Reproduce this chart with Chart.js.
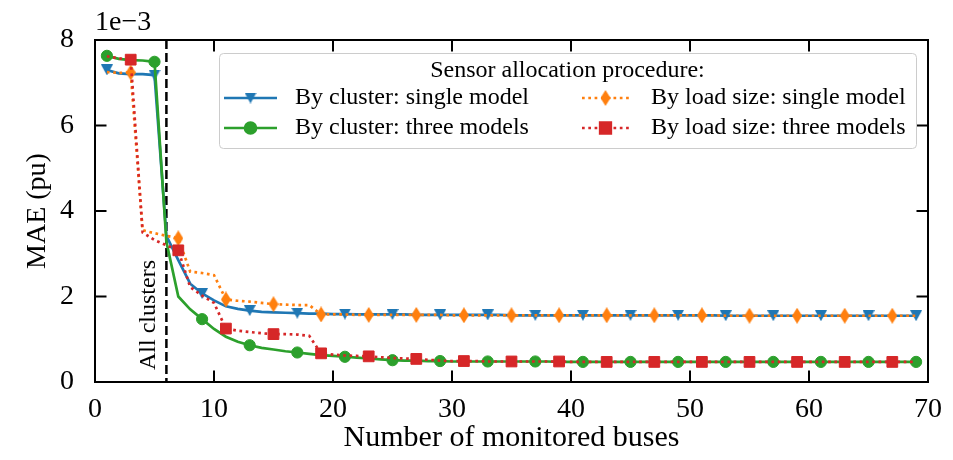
<!DOCTYPE html>
<html>
<head>
<meta charset="utf-8">
<title>MAE vs number of monitored buses</title>
<script src="https://cdn.jsdelivr.net/npm/chart.js@4.4.1/dist/chart.umd.min.js"></script>
<style>
  html, body { margin: 0; padding: 0; background: #ffffff; }
  canvas { display: block; }
</style>
</head>
<body>
<canvas id="maeChart" width="953" height="460"></canvas>
<script>
// number of monitored buses (x)
var buses = [
  1, 2, 3, 4, 5, 6, 7, 8, 9, 10,
  11, 12, 13, 14, 15, 16, 17, 18, 19, 20,
  21, 22, 23, 24, 25, 26, 27, 28, 29, 30,
  31, 32, 33, 34, 35, 36, 37, 38, 39, 40,
  41, 42, 43, 44, 45, 46, 47, 48, 49, 50,
  51, 52, 53, 54, 55, 56, 57, 58, 59, 60,
  61, 62, 63, 64, 65, 66, 67, 68, 69
];

// MAE in units of 1e-3 pu
var clusterSingle = [
  7.30, 7.22, 7.20, 7.20, 7.18, 3.42, 2.85, 2.30, 2.07, 1.91,
  1.77, 1.71, 1.67, 1.64, 1.63, 1.62, 1.61, 1.60, 1.60, 1.59,
  1.59, 1.58, 1.58, 1.58, 1.58, 1.58, 1.57, 1.57, 1.57, 1.57,
  1.57, 1.57, 1.57, 1.57, 1.56, 1.56, 1.56, 1.56, 1.56, 1.56,
  1.56, 1.56, 1.56, 1.56, 1.56, 1.56, 1.56, 1.56, 1.56, 1.56,
  1.56, 1.56, 1.55, 1.55, 1.55, 1.55, 1.55, 1.55, 1.55, 1.55,
  1.55, 1.55, 1.55, 1.55, 1.55, 1.55, 1.55, 1.55, 1.55
];
var clusterThree = [
  7.63, 7.56, 7.53, 7.52, 7.49, 3.28, 2.00, 1.70, 1.47, 1.24,
  1.06, 0.94, 0.86, 0.80, 0.76, 0.72, 0.69, 0.66, 0.63, 0.61,
  0.59, 0.57, 0.55, 0.53, 0.51, 0.50, 0.50, 0.49, 0.49, 0.48,
  0.48, 0.48, 0.48, 0.48, 0.48, 0.48, 0.48, 0.48, 0.47, 0.47,
  0.47, 0.47, 0.47, 0.47, 0.47, 0.47, 0.47, 0.47, 0.47, 0.47,
  0.47, 0.47, 0.47, 0.47, 0.47, 0.47, 0.47, 0.47, 0.47, 0.47,
  0.47, 0.47, 0.47, 0.47, 0.47, 0.47, 0.47, 0.47, 0.47
];
var loadSingle = [
  7.25, 7.23, 7.24, 3.55, 3.48, 3.42, 3.36, 2.58, 2.55, 2.50,
  1.93, 1.90, 1.88, 1.85, 1.82, 1.81, 1.80, 1.80, 1.58, 1.58,
  1.58, 1.57, 1.57, 1.57, 1.57, 1.57, 1.57, 1.57, 1.57, 1.56,
  1.56, 1.56, 1.56, 1.56, 1.56, 1.56, 1.56, 1.56, 1.56, 1.56,
  1.56, 1.56, 1.56, 1.56, 1.56, 1.56, 1.56, 1.56, 1.56, 1.56,
  1.56, 1.56, 1.55, 1.55, 1.55, 1.55, 1.55, 1.55, 1.55, 1.55,
  1.55, 1.55, 1.55, 1.55, 1.55, 1.55, 1.55, 1.55, 1.55
];
var loadThree = [
  7.62, 7.57, 7.54, 3.50, 3.32, 3.20, 3.08, 2.22, 2.02, 1.85,
  1.25, 1.20, 1.17, 1.14, 1.12, 1.12, 1.11, 1.08, 0.67, 0.64,
  0.62, 0.61, 0.60, 0.58, 0.56, 0.55, 0.54, 0.52, 0.50, 0.49,
  0.49, 0.49, 0.48, 0.48, 0.48, 0.48, 0.48, 0.48, 0.48, 0.47,
  0.47, 0.47, 0.47, 0.47, 0.47, 0.47, 0.47, 0.47, 0.47, 0.47,
  0.47, 0.47, 0.47, 0.47, 0.47, 0.47, 0.47, 0.47, 0.47, 0.47,
  0.47, 0.47, 0.47, 0.47, 0.47, 0.47, 0.47, 0.47, 0.47
];

var xTicks = [0, 10, 20, 30, 40, 50, 60, 70];
var yTicks = [0, 2, 4, 6, 8];
var yExponent = '1e\u22123';
var allClustersAt = 6;

var seriesLabels = [
  'By cluster: single model',
  'By cluster: three models',
  'By load size: single model',
  'By load size: three models'
];

var SERIF = "'Liberation Serif', 'DejaVu Serif', serif";

// matplotlib-like markers drawn on small canvases
function markerCanvas(w, h, color, path) {
  var c = document.createElement('canvas');
  c.width = w;
  c.height = h;
  var g = c.getContext('2d');
  g.fillStyle = color;
  g.beginPath();
  path(g, w, h);
  g.closePath();
  g.fill();
  return c;
}
var triDown = markerCanvas(12, 11, '#1f77b4', function (g, w, h) {
  g.moveTo(0, 0); g.lineTo(w, 0); g.lineTo(w / 2, h);
});
var thinDiamond = markerCanvas(10, 16, '#ff7f0e', function (g, w, h) {
  g.moveTo(w / 2, 0); g.lineTo(w, h / 2); g.lineTo(w / 2, h); g.lineTo(0, h / 2);
});

function pts(vals) {
  return buses.map(function (b, i) { return { x: b, y: vals[i] }; });
}
// markers every 4th point; "cluster" series start at 1, "load size" at 3
function every4(offset, r) {
  return function (c) { return c.dataIndex % 4 === offset ? r : 0; };
}

var datasets = [
  {
    label: seriesLabels[0], data: pts(clusterSingle), order: 4,
    borderColor: '#1f77b4', backgroundColor: '#1f77b4', borderWidth: 2.7,
    pointStyle: triDown, pointRadius: every4(0, 6), legendRadius: 6
  },
  {
    label: seriesLabels[1], data: pts(clusterThree), order: 3,
    borderColor: '#2ca02c', backgroundColor: '#2ca02c', borderWidth: 2.7,
    pointStyle: 'circle', pointRadius: every4(0, 5.6), legendRadius: 5.5,
    pointBorderWidth: 1
  },
  {
    label: seriesLabels[2], data: pts(loadSingle), order: 2,
    borderColor: '#ff7f0e', backgroundColor: '#ff7f0e', borderWidth: 2.7,
    borderDash: [2.7, 3.6],
    pointStyle: thinDiamond, pointRadius: every4(2, 6), legendRadius: 6
  },
  {
    label: seriesLabels[3], data: pts(loadThree), order: 1,
    borderColor: '#d62728', backgroundColor: '#d62728', borderWidth: 2.7,
    borderDash: [2.7, 3.6],
    pointStyle: 'rect', pointRadius: every4(2, 7.6), legendRadius: 7.5,
    pointBorderWidth: 1
  }
];
datasets.forEach(function (d) {
  d.pointBackgroundColor = d.borderColor;
  d.pointBorderColor = d.borderColor;
  d.tension = 0;
  d.fill = false;
});

// dashed "All clusters" line, drawn under the data
var markerLine = {
  id: 'markerLine',
  beforeDatasetsDraw: function (chart) {
    var ctx = chart.ctx, a = chart.chartArea;
    var px = chart.scales.x.getPixelForValue(allClustersAt);
    ctx.save();
    ctx.strokeStyle = '#000';
    ctx.lineWidth = 2.5;
    ctx.setLineDash([9, 4]);
    ctx.beginPath();
    ctx.moveTo(px, a.top);
    ctx.lineTo(px, a.bottom);
    ctx.stroke();
    ctx.restore();
  }
};

// frame, inward ticks on all sides, legend, extra texts
var frameAndLegend = {
  id: 'frameAndLegend',
  afterDatasetsDraw: function (chart) {
    var ctx = chart.ctx, a = chart.chartArea;
    var sx = chart.scales.x, sy = chart.scales.y;
    var tl = 11.5;
    ctx.save();
    ctx.strokeStyle = '#000';
    ctx.lineWidth = 2;
    ctx.setLineDash([]);
    ctx.strokeRect(a.left, a.top, a.right - a.left, a.bottom - a.top);
    ctx.beginPath();
    xTicks.forEach(function (v) {
      var p = sx.getPixelForValue(v);
      ctx.moveTo(p, a.bottom); ctx.lineTo(p, a.bottom - tl);
      ctx.moveTo(p, a.top); ctx.lineTo(p, a.top + tl);
    });
    yTicks.forEach(function (v) {
      var p = sy.getPixelForValue(v);
      ctx.moveTo(a.left, p); ctx.lineTo(a.left + tl, p);
      ctx.moveTo(a.right, p); ctx.lineTo(a.right - tl, p);
    });
    ctx.stroke();

    // "All clusters" beside the dashed line
    var px = sx.getPixelForValue(allClustersAt);
    ctx.save();
    ctx.translate(px - 11, 370);
    ctx.rotate(-Math.PI / 2);
    ctx.fillStyle = '#000';
    ctx.font = '24px ' + SERIF;
    ctx.textAlign = 'left';
    ctx.textBaseline = 'alphabetic';
    ctx.fillText('All clusters', 0, 0);
    ctx.restore();

    // offset text above the y axis
    ctx.fillStyle = '#000';
    ctx.font = '28px ' + SERIF;
    ctx.textAlign = 'left';
    ctx.textBaseline = 'alphabetic';
    ctx.fillText(yExponent, a.left, 30);

    // legend
    var box = { x: 219, y: 53, w: 697, h: 95 };
    ctx.fillStyle = 'rgba(255,255,255,0.85)';
    ctx.strokeStyle = '#cccccc';
    ctx.lineWidth = 1;
    ctx.beginPath();
    ctx.roundRect(box.x + 0.5, box.y + 0.5, box.w, box.h, 4);
    ctx.fill();
    ctx.stroke();

    ctx.fillStyle = '#000';
    ctx.font = '24px ' + SERIF;
    ctx.textAlign = 'center';
    ctx.textBaseline = 'middle';
    ctx.fillText('Sensor allocation procedure:', box.x + box.w / 2, 71);

    var rows = [98, 128];
    var cols = [
      { x0: 224, x1: 277, tx: 295 },
      { x0: 582, x1: 629, tx: 651 }
    ];
    chart.data.datasets.forEach(function (d, i) {
      var col = cols[Math.floor(i / 2)], y = rows[i % 2];
      ctx.strokeStyle = d.borderColor;
      ctx.lineWidth = d.borderWidth;
      ctx.setLineDash(d.borderDash || []);
      ctx.beginPath();
      ctx.moveTo(col.x0, y);
      ctx.lineTo(col.x1, y);
      ctx.stroke();
      ctx.setLineDash([]);
      ctx.fillStyle = d.borderColor;
      ctx.strokeStyle = d.borderColor;
      Chart.helpers.drawPoint(ctx, {
        pointStyle: d.pointStyle, radius: d.legendRadius, rotation: 0,
        borderWidth: d.pointBorderWidth || 0
      }, (col.x0 + col.x1) / 2, y);
      ctx.fillStyle = '#000';
      ctx.textAlign = 'left';
      ctx.textBaseline = 'middle';
      ctx.fillText(d.label, col.tx, y);
    });
    ctx.restore();
  }
};

var ctx = document.getElementById('maeChart').getContext('2d');
var maeChart = new Chart(ctx, {
  type: 'line',
  data: { datasets: datasets },
  options: {
    responsive: false,
    devicePixelRatio: 1,
    animation: false,
    events: [],
    layout: { padding: { top: 40, right: 25, bottom: 0, left: 0 } },
    plugins: {
      legend: { display: false },
      tooltip: { enabled: false }
    },
    scales: {
      x: {
        type: 'linear',
        min: 0,
        max: 70,
        afterBuildTicks: function (s) { s.ticks = xTicks.map(function (v) { return { value: v }; }); },
        afterFit: function (s) { s.height = 78; },
        grid: { display: false },
        border: { display: false },
        ticks: {
          color: '#000', padding: 3, maxRotation: 0, autoSkip: false,
          font: { family: SERIF, size: 28 }
        },
        title: {
          display: true, text: 'Number of monitored buses', color: '#000',
          font: { family: SERIF, size: 30 }, padding: { top: 0, bottom: 4 }
        }
      },
      y: {
        min: 0,
        max: 8,
        afterBuildTicks: function (s) { s.ticks = yTicks.map(function (v) { return { value: v }; }); },
        afterFit: function (s) { s.width = 95; },
        grid: { display: false },
        border: { display: false },
        ticks: {
          color: '#000', padding: 13,
          font: { family: SERIF, size: 28 }
        },
        title: {
          display: true, text: 'MAE (pu)', color: '#000',
          font: { family: SERIF, size: 28 }, padding: { top: 21, bottom: 0 }
        }
      }
    }
  },
  plugins: [markerLine, frameAndLegend]
});
</script>
</body>
</html>
